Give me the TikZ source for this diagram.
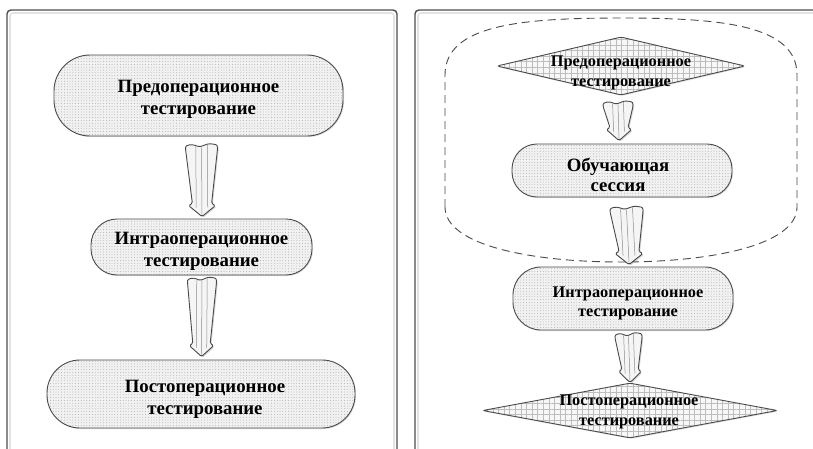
\documentclass[tikz,border=0pt]{standalone}
\usepackage{fontspec}
\setmainfont{Liberation Serif}
\usetikzlibrary{patterns.meta,shapes.geometric,shadows,calc}
\definecolor{edgec}{HTML}{4A4A4A}
\definecolor{pillbg}{HTML}{F1F1F1}
\definecolor{dotc}{HTML}{959595}
\definecolor{gridbg}{HTML}{F7F7F7}
\definecolor{gridc}{HTML}{BDBDBD}
\definecolor{arrbg}{HTML}{F5F5F5}
\definecolor{stripec}{HTML}{8A8A8A}
\definecolor{framec}{HTML}{4D4D4D}
\tikzset{
  panel/.style={draw=framec, line width=1.4pt, rounded corners=4pt},
  panelinner/.style={draw=gray!22, line width=1.6pt, rounded corners=3pt},
  pill/.style={draw=edgec, line width=0.9pt, rounded corners=#1,
    drop shadow={shadow xshift=1pt, shadow yshift=-1pt, opacity=0.25},
    preaction={fill=pillbg},
    pattern={Dots[distance=2.8pt, radius=0.4pt]}, pattern color=dotc,
    inner sep=0pt},
  diam/.style={shape=diamond, draw=edgec, line width=0.9pt, rounded corners=2.5pt,
    drop shadow={shadow xshift=1pt, shadow yshift=-1pt, opacity=0.25},
    preaction={fill=gridbg},
    pattern={Hatch[distance=5.6pt, angle=0, line width=0.4pt]}, pattern color=gridc,
    inner sep=0pt},
  bigtxt/.style={font=\bfseries\fontsize{18.8}{22}\selectfont},
  smalltxt/.style={font=\bfseries\fontsize{16.3}{19.5}\selectfont},
  midtxt/.style={font=\bfseries\fontsize{18.8}{20}\selectfont},
  lbl/.style={align=center, inner sep=0pt, text=black},
  arrowbody/.style={draw=edgec, line width=0.9pt, fill=arrbg, rounded corners=1.5pt,
    drop shadow={shadow xshift=1.2pt, shadow yshift=-1.2pt, opacity=0.3}},
  stripe/.style={draw=stripec, line width=0.5pt},
  grouping/.style={draw=edgec, line width=0.9pt, dash pattern=on 8pt off 5pt}
}
\newcommand\blockarrow[3]{%
  \pgfmathsetmacro\baW{#3}%
  \pgfmathsetmacro\baS{0.6*#3}%
  \pgfmathsetmacro\baH{0.84*#3}%
  \pgfmathsetmacro\baT{0.3*#3}%
  \pgfmathsetmacro\baU{0.62*#3}%
  \pgfmathsetmacro\baL{0.36*#3}%
  \path[arrowbody] ($(#1)+(-\baW,4)$)
    .. controls ($(#1)+(-\baW,0)$) and ($(#1)+(-\baU,-1)$) .. ($(#1)+(-\baT,1)$)
    .. controls ($(#1)+(0,2.5)$) and ($(#1)+(\baT,-1.5)$) .. ($(#1)+(\baU,-1)$)
    .. controls ($(#1)+(\baW,-0.5)$) and ($(#1)+(\baW,1)$) .. ($(#1)+(\baW,4)$)
    -- ($(#2)+(\baS,-13)$) -- ($(#2)+(\baH,-11)$) -- (#2)
    -- ($(#2)+(-\baH,-11)$) -- ($(#2)+(-\baS,-13)$) -- cycle;
  \draw[stripe] ($(#1)+(-\baL,1.5)$) -- ($(#2)+(-\baL,-9)$);
  \draw[stripe] ($(#1)+(0,2.5)$) -- ($(#2)+(0,-2)$);
  \draw[stripe] ($(#1)+(\baL,0)$) -- ($(#2)+(\baL,-9)$);
}
\begin{document}
\begin{tikzpicture}[x=1pt,y=-1pt]
\useasboundingbox[fill=white] (0,0) rectangle (813,448);
% panels
\draw[panelinner] (10,13) rectangle (394,470);
\draw[panel] (7,10) rectangle (397,470);
\draw[panelinner] (418,13) rectangle (830,470);
\draw[panel] (415,10) rectangle (830,470);

% left panel
\node[pill=36pt, minimum width=289pt, minimum height=81pt] (L1) at (198.5,95.5) {};
\node[lbl, bigtxt] (L1t) at ($(L1.center)+(0,4)$) {Предоперационное\\тестирование};
\node[pill=26pt, minimum width=221pt, minimum height=56pt] (L2) at (201.5,247) {};
\node[lbl, bigtxt] (L2t) at ($(L2.center)+(0,4.5)$) {Интраоперационное\\тестирование};
\node[pill=33pt, minimum width=308pt, minimum height=68pt] (L3) at (201,394) {};
\node[lbl, bigtxt] (L3t) at ($(L3.center)+(4,5)$) {Постоперационное\\тестирование};

\coordinate (a1s) at ($(L1.south)+(3,8.5)$);
\coordinate (a1e) at ($(L2.north)+(0.5,-2)$);
\coordinate (a2s) at ($(L2.south)+(0.5,3)$);
\coordinate (a2e) at ($(L3.north)+(0.5,-3)$);
\blockarrow{a1s}{a1e}{16}
\blockarrow{a2s}{a2e}{14.5}

% right panel
\draw[grouping] (445,207) -- (445,75) .. controls (445,25) and (520,18) .. (621,18)
  .. controls (722,18) and (797,25) .. (797,75) -- (797,207)
  .. controls (797,245) and (712,262) .. (621,262)
  .. controls (530,262) and (445,245) .. cycle;

\node[diam, minimum width=248pt, minimum height=58pt] (R1) at (621,66) {};
\node[lbl, smalltxt] (R1t) at ($(R1.center)+(0,7)$) {Предоперационное\\тестирование};
\node[pill=25pt, minimum width=220pt, minimum height=53pt] (R2) at (622,170.5) {};
\node[lbl, midtxt] (R2t) at ($(R2.center)+(-4,4)$) {Обучающая\\сессия};
\node[pill=28pt, minimum width=220pt, minimum height=63pt] (R3) at (623,298.5) {};
\node[lbl, smalltxt] (R3t) at ($(R3.center)+(5,5)$) {Интраоперационное\\тестирование};
\node[diam, minimum width=295pt, minimum height=55pt] (R4) at (630,410.5) {};
\node[lbl, smalltxt] (R4t) at ($(R4.center)+(-1,1.5)$) {Постоперационное\\тестирование};

\coordinate (b1s) at ($(R1.south)+(-3,7)$);
\coordinate (b1e) at ($(R2.north)+(-3,-3)$);
\coordinate (b2s) at ($(R2.south)+(4.5,10)$);
\coordinate (b2e) at ($(R3.north)+(6,-2)$);
\coordinate (b3s) at ($(R3.south)+(5.5,3.5)$);
\coordinate (b3e) at ($(R4.north)+(0,0)$);
\blockarrow{b1s}{b1e}{15}
\blockarrow{b2s}{b2e}{16.5}
\blockarrow{b3s}{b3e}{13.5}
\end{tikzpicture}
\end{document}
